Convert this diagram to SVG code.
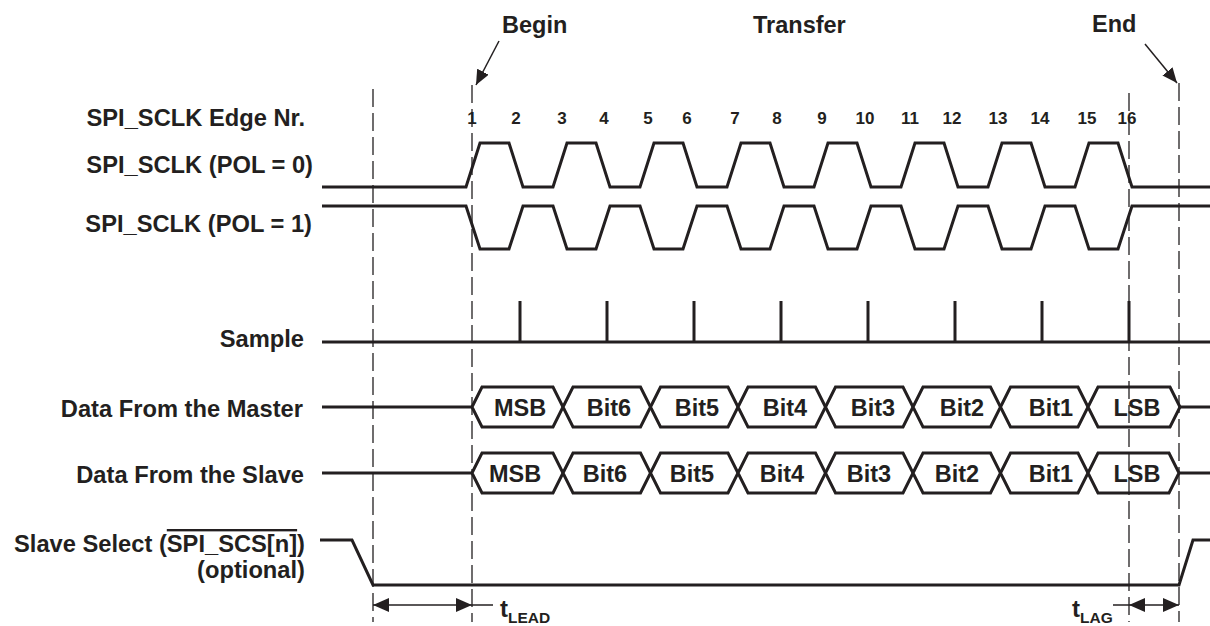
<svg xmlns="http://www.w3.org/2000/svg" width="1210" height="626" viewBox="0 0 1210 626">
<style>
  text { font-family: "Liberation Sans", Arial, sans-serif; font-weight: bold; fill: #231f20; }
  .lbl { font-size: 23.7px; text-anchor: end; }
  .hdr { font-size: 23.5px; }
  .num { font-size: 17px; text-anchor: middle; }
  .cell { font-size: 23.5px; text-anchor: middle; }
  .sig { fill: none; stroke: #231f20; stroke-width: 3; stroke-linejoin: miter; }
  .hex { fill: #ffffff; stroke: #231f20; stroke-width: 3; stroke-linejoin: miter; }
  .dash { stroke: #231f20; stroke-width: 1.3; stroke-dasharray: 18 6; fill: none; }
  .arr { stroke: #231f20; stroke-width: 1.5; fill: none; }
  .tsub { font-size: 15.5px; }
  .tmain { font-size: 24px; }
</style>
<defs>
  <marker id="ah" markerUnits="userSpaceOnUse" markerWidth="16" markerHeight="14" viewBox="0 0 16 14" refX="16" refY="7" orient="auto-start-reverse">
    <path d="M0,0 L16,7 L0,14 z" fill="#231f20"/>
  </marker>
  <marker id="ahs" markerUnits="userSpaceOnUse" markerWidth="15" markerHeight="13" viewBox="0 0 15 13" refX="15" refY="6.5" orient="auto">
    <path d="M0,0 L15,6.5 L0,13 z" fill="#231f20"/>
  </marker>
</defs>

<g id="headers">
  <text class="hdr" x="502" y="33">Begin</text>
  <text class="hdr" x="753" y="33">Transfer</text>
  <text class="hdr" x="1092" y="32">End</text>
</g>

<g id="labels">
  <text class="lbl" x="305" y="126">SPI_SCLK Edge Nr.</text>
  <text class="lbl" x="313" y="173">SPI_SCLK (POL = 0)</text>
  <text class="lbl" x="312" y="232">SPI_SCLK (POL = 1)</text>
  <text class="lbl" x="304" y="347">Sample</text>
  <text class="lbl" x="303" y="416.5">Data From the Master</text>
  <text class="lbl" x="304" y="483">Data From the Slave</text>
  <text class="lbl" x="305" y="552">Slave Select (<tspan text-decoration="overline">SPI_SCS[n]</tspan>)</text>
  <text class="lbl" x="305" y="578">(optional)</text>
</g>

<g id="edge-numbers">
  <text class="num" x="472" y="124">1</text>
  <text class="num" x="516" y="124">2</text>
  <text class="num" x="562" y="124">3</text>
  <text class="num" x="604" y="124">4</text>
  <text class="num" x="648" y="124">5</text>
  <text class="num" x="687" y="124">6</text>
  <text class="num" x="735" y="124">7</text>
  <text class="num" x="777" y="124">8</text>
  <text class="num" x="822" y="124">9</text>
  <text class="num" x="865" y="124">10</text>
  <text class="num" x="910" y="124">11</text>
  <text class="num" x="952" y="124">12</text>
  <text class="num" x="998" y="124">13</text>
  <text class="num" x="1040" y="124">14</text>
  <text class="num" x="1087" y="124">15</text>
  <text class="num" x="1127" y="124">16</text>
</g>

<g id="sclk-pol0">
  <path class="sig" d="M322,187 H466 L480,143 H509 L523,187 H553 L567,143 H596 L610,187 H640 L654,143 H683 L697,187 H727 L741,143 H770 L784,187 H814 L828,143 H857 L871,187 H901 L915,143 H944 L958,187 H988 L1002,143 H1031 L1045,187 H1075 L1089,143 H1118 L1132,187 H1210"/>
</g>

<g id="sclk-pol1">
  <path class="sig" d="M322,206 H466 L480,249 H509 L523,206 H553 L567,249 H596 L610,206 H640 L654,249 H683 L697,206 H727 L741,249 H770 L784,206 H814 L828,249 H857 L871,206 H901 L915,249 H944 L958,206 H988 L1002,249 H1031 L1045,206 H1075 L1089,249 H1118 L1132,206 H1210"/>
</g>

<g id="sample">
  <path class="sig" d="M322,342 H1210 M520,301 V342 M607,301 V342 M694,301 V342 M781,301 V342 M868,301 V342 M955,301 V342 M1042,301 V342 M1129,301 V342"/>
</g>

<g id="data-master">
  <path class="sig" d="M322,407 H472 M1180,407 H1210"/>
  <polygon class="hex" points="472,407 482,387 553,387 563,407 553,427 482,427"/>
  <polygon class="hex" points="563,407 573,387 640.5,387 650.5,407 640.5,427 573,427"/>
  <polygon class="hex" points="650.5,407 660.5,387 728,387 738,407 728,427 660.5,427"/>
  <polygon class="hex" points="738,407 748,387 815.5,387 825.5,407 815.5,427 748,427"/>
  <polygon class="hex" points="825.5,407 835.5,387 903,387 913,407 903,427 835.5,427"/>
  <polygon class="hex" points="913,407 923,387 990.5,387 1000.5,407 990.5,427 923,427"/>
  <polygon class="hex" points="1000.5,407 1010.5,387 1078,387 1088,407 1078,427 1010.5,427"/>
  <polygon class="hex" points="1088,407 1098,387 1170,387 1180,407 1170,427 1098,427"/>
  <text class="cell" x="520" y="415.5">MSB</text>
  <text class="cell" x="609" y="415.5">Bit6</text>
  <text class="cell" x="697" y="415.5">Bit5</text>
  <text class="cell" x="785" y="415.5">Bit4</text>
  <text class="cell" x="873" y="415.5">Bit3</text>
  <text class="cell" x="962" y="415.5">Bit2</text>
  <text class="cell" x="1051" y="415.5">Bit1</text>
  <text class="cell" x="1137" y="415.5">LSB</text>
</g>

<g id="data-slave">
  <path class="sig" d="M322,473 H472 M1179,473 H1210"/>
  <polygon class="hex" points="472,473 482,453 553,453 563,473 553,493 482,493"/>
  <polygon class="hex" points="563,473 573,453 640.5,453 650.5,473 640.5,493 573,493"/>
  <polygon class="hex" points="650.5,473 660.5,453 728,453 738,473 728,493 660.5,493"/>
  <polygon class="hex" points="738,473 748,453 815.5,453 825.5,473 815.5,493 748,493"/>
  <polygon class="hex" points="825.5,473 835.5,453 903,453 913,473 903,493 835.5,493"/>
  <polygon class="hex" points="913,473 923,453 990.5,453 1000.5,473 990.5,493 923,493"/>
  <polygon class="hex" points="1000.5,473 1010.5,453 1078,453 1088,473 1078,493 1010.5,493"/>
  <polygon class="hex" points="1088,473 1098,453 1169,453 1179,473 1169,493 1098,493"/>
  <text class="cell" x="515" y="481.5">MSB</text>
  <text class="cell" x="605" y="481.5">Bit6</text>
  <text class="cell" x="692" y="481.5">Bit5</text>
  <text class="cell" x="782" y="481.5">Bit4</text>
  <text class="cell" x="869" y="481.5">Bit3</text>
  <text class="cell" x="957" y="481.5">Bit2</text>
  <text class="cell" x="1051" y="481.5">Bit1</text>
  <text class="cell" x="1137" y="481.5">LSB</text>
</g>

<g id="slave-select">
  <path class="sig" d="M320,540 H352 L373,585 H1179 L1193,540 H1210"/>
</g>

<g id="timing-labels">
  <text x="500" y="617"><tspan class="tmain">t</tspan><tspan class="tsub" dy="6">LEAD</tspan></text>
  <text x="1072" y="617"><tspan class="tmain">t</tspan><tspan class="tsub" dy="6">LAG</tspan></text>
</g>

<g id="connectors">
  <line class="dash" x1="373" y1="89" x2="373" y2="622"/>
  <line class="dash" x1="472" y1="85" x2="472" y2="622"/>
  <line class="dash" x1="1129" y1="93" x2="1129" y2="622"/>
  <line class="dash" x1="1179" y1="83" x2="1179" y2="622"/>
  <line class="arr" x1="499" y1="41" x2="476" y2="85" marker-end="url(#ahs)"/>
  <line class="arr" x1="1145" y1="44" x2="1177" y2="83" marker-end="url(#ahs)"/>
  <line class="arr" x1="373" y1="605" x2="472" y2="605" marker-start="url(#ah)" marker-end="url(#ah)"/>
  <line class="arr" x1="472" y1="605" x2="493" y2="605"/>
  <line class="arr" x1="1129" y1="605" x2="1179" y2="605" marker-start="url(#ah)" marker-end="url(#ah)"/>
  <line class="arr" x1="1113" y1="605" x2="1129" y2="605"/>
</g>
</svg>
